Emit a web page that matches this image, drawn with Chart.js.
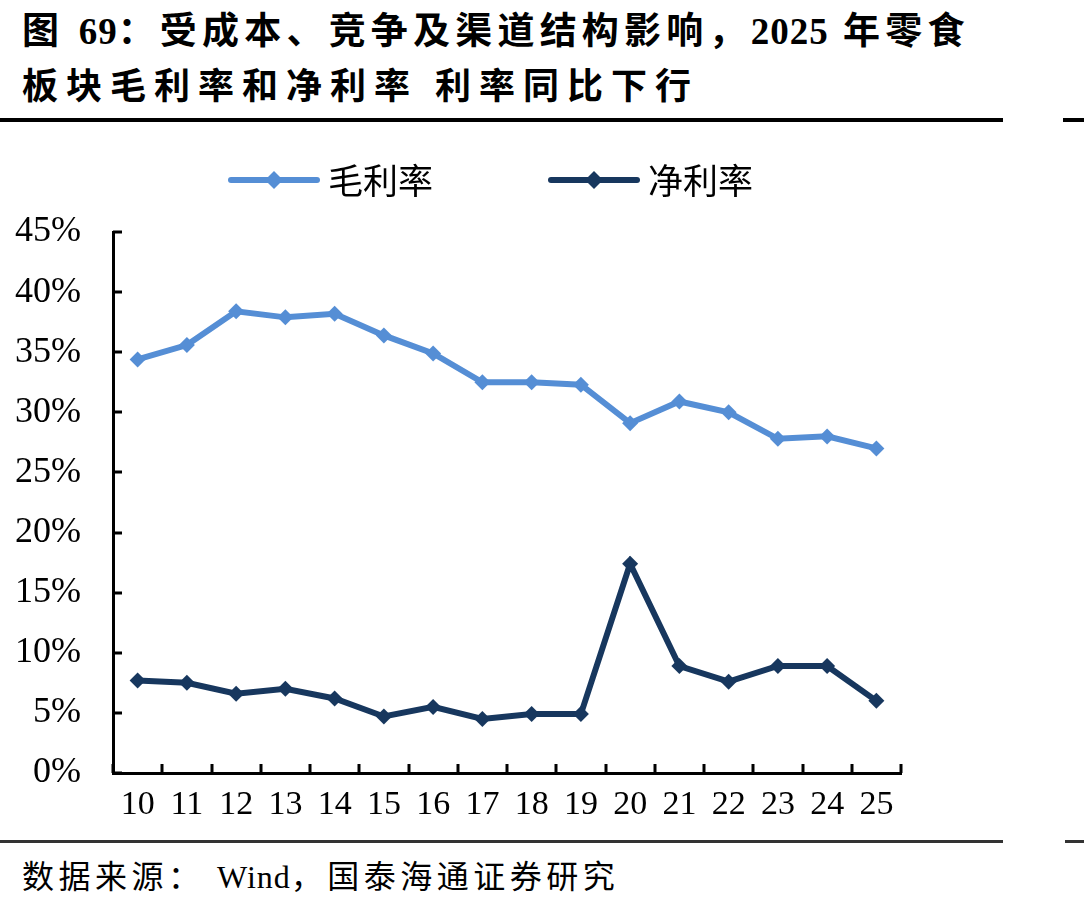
<!DOCTYPE html>
<html>
<head>
<meta charset="utf-8">
<script src="https://cdn.jsdelivr.net/npm/chart.js@4"></script>
<style>
  html, body { margin: 0; padding: 0; background: #fff; }
  body { width: 1084px; height: 910px; position: relative; overflow: hidden; }
  .title { position: absolute; left: 22px; font-family: "Liberation Serif", "Noto Sans CJK SC", serif; font-weight: bold; font-size: 36px; color: #000; white-space: nowrap; line-height: 1; }
  #t1 { top: 13px; font-size: 37px; letter-spacing: 5.2px; }
  #t1 .num { letter-spacing: 1px; }
  #t2 { top: 69px; letter-spacing: 8px; }
  .rule { position: absolute; background: #000; }
  #source { position: absolute; left: 22px; top: 861px; font-family: "Liberation Serif", "Noto Sans CJK SC", serif; font-size: 32px; letter-spacing: 4.5px; color: #000; white-space: nowrap; line-height: 1; }
  #source .en { letter-spacing: 1px; }
  #wrap { position: absolute; left: 0; top: 130px; width: 1084px; height: 700px; }
</style>
</head>
<body>
<div class="title" id="t1">图 <span class="num">69</span>：受成本、竞争及渠道结构影响，<span class="num">2025</span> 年零食</div>
<div class="title" id="t2">板块毛利率和净利率 利率同比下行</div>
<div class="rule" style="left:0;top:118px;width:1003px;height:4px"></div>
<div class="rule" style="left:1063px;top:118px;width:21px;height:4px"></div>
<div id="wrap"><canvas id="chart" width="1084" height="700"></canvas></div>
<div class="rule" style="left:0;top:840px;width:1003px;height:3px;background:#333"></div>
<div class="rule" style="left:1065px;top:840px;width:19px;height:3px;background:#333"></div>
<div id="source">数据来源： <span class="en">Wind</span>，国泰海通证券研究</div>
<script>
// 年份（两位）
const years = ["10", "11", "12", "13", "14", "15", "16", "17", "18", "19", "20", "21", "22", "23", "24", "25"];
// 毛利率 (%)
const grossMargin = [34.4, 35.6, 38.4, 37.9, 38.2, 36.4, 34.9, 32.5, 32.5, 32.3, 29.1, 30.9, 30.0, 27.8, 28.0, 27.0];
// 净利率 (%)
const netMargin = [7.7, 7.5, 6.6, 7.0, 6.2, 4.7, 5.5, 4.5, 4.9, 4.9, 17.4, 8.9, 7.6, 8.9, 8.9, 6.0];
const yTicks = [0, 5, 10, 15, 20, 25, 30, 35, 40, 45];

const lightBlue = "#558ED5";
const darkBlue = "#17375E";

// 坐标轴向内的刻度线
const innerTicks = {
    id: "innerTicks",
    afterDraw(chart) {
        const ctx = chart.ctx;
        const xs = chart.scales.x;
        const ys = chart.scales.y;
        const area = chart.chartArea;
        ctx.save();
        ctx.strokeStyle = "#000";
        ctx.lineWidth = 3;
        ctx.beginPath();
        for (let i = 0; i <= years.length; i++) {
            const x = Math.round(xs.getPixelForValue(i - 0.5));
            ctx.moveTo(x, area.bottom);
            ctx.lineTo(x, area.bottom - 9);
        }
        yTicks.forEach(v => {
            const y = Math.round(ys.getPixelForValue(v));
            ctx.moveTo(area.left, y);
            ctx.lineTo(area.left + 9, y);
        });
        ctx.stroke();
        ctx.restore();
    }
};

// 图例：线段 + 菱形 + 文字
const lineLegend = {
    id: "lineLegend",
    afterDraw(chart) {
        const ctx = chart.ctx;
        const starts = [231, 551];
        const y = 50;
        ctx.save();
        chart.data.datasets.forEach((ds, i) => {
            const x0 = starts[i];
            ctx.strokeStyle = ds.borderColor;
            ctx.lineWidth = 6;
            ctx.lineCap = "round";
            ctx.beginPath();
            ctx.moveTo(x0, y);
            ctx.lineTo(x0 + 86, y);
            ctx.stroke();
            ctx.fillStyle = ds.borderColor;
            ctx.beginPath();
            const cx = x0 + 43, r = 9;
            ctx.moveTo(cx, y - r);
            ctx.lineTo(cx + r, y);
            ctx.lineTo(cx, y + r);
            ctx.lineTo(cx - r, y);
            ctx.closePath();
            ctx.fill();
            ctx.fillStyle = "#000";
            ctx.font = '35px "Noto Sans CJK SC"';
            ctx.textBaseline = "middle";
            ctx.fillText(ds.label, x0 + 97, y + 1);
        });
        ctx.restore();
    }
};

new Chart(document.getElementById("chart"), {
    type: "line",
    data: {
        labels: years,
        datasets: [{
            label: "毛利率",
            data: grossMargin,
            borderColor: lightBlue,
            backgroundColor: lightBlue,
            borderWidth: 6,
            pointStyle: "rectRot",
            pointRadius: 8,
            pointHoverRadius: 8,
            pointBorderWidth: 0,
            tension: 0
        }, {
            label: "净利率",
            data: netMargin,
            borderColor: darkBlue,
            backgroundColor: darkBlue,
            borderWidth: 6,
            pointStyle: "rectRot",
            pointRadius: 8,
            pointHoverRadius: 8,
            pointBorderWidth: 0,
            tension: 0
        }]
    },
    options: {
        responsive: false,
        animation: false,
        layout: { padding: { top: 102, right: 183, left: 0, bottom: 0 } },
        plugins: {
            legend: { display: false },
            tooltip: { enabled: false }
        },
        scales: {
            x: {
                offset: true,
                grid: { display: false, drawTicks: false },
                border: { display: true, color: "#000", width: 3 },
                ticks: {
                    color: "#000",
                    font: { family: "Liberation Serif", size: 34 },
                    padding: 12,
                    maxRotation: 0,
                    autoSkip: false
                },
                afterFit(scale) { scale.height = 57; }
            },
            y: {
                min: 0,
                max: 45,
                grid: { display: false, drawTicks: false },
                border: { display: true, color: "#000", width: 3 },
                ticks: {
                    stepSize: 5,
                    color: "#000",
                    font: { family: "Liberation Serif", size: 36 },
                    padding: 32,
                    callback: v => v + "%"
                },
                afterFit(scale) { scale.width = 113; }
            }
        }
    },
    plugins: [innerTicks, lineLegend]
});
</script>
</body>
</html>
